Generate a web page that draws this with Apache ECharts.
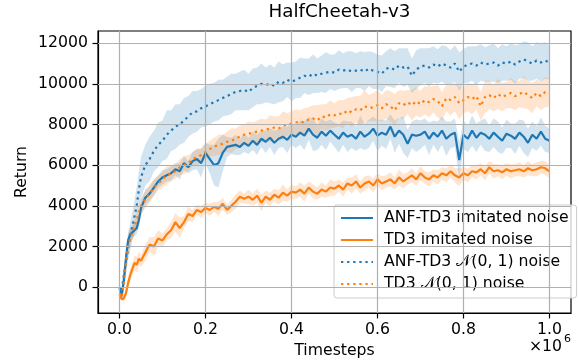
<!DOCTYPE html>
<html lang="en">
<head>
    <meta charset="UTF-8">
    <title>HalfCheetah-v3</title>
    <script src="https://cdn.jsdelivr.net/npm/echarts@6/dist/echarts.min.js"></script>
</head>
<body style="margin: 0">
    <div id="main" style="width: 579px; height: 360px"></div>
    <script>
        // timesteps in units of 1e6
        var timesteps = [0, 0.005, 0.01, 0.015, 0.02, 0.025, 0.03, 0.035, 0.04, 0.045, 0.05,
            0.06, 0.07, 0.08, 0.09, 0.10,
            0.11, 0.12, 0.13, 0.14, 0.15, 0.16, 0.17, 0.18, 0.19, 0.20,
            0.21, 0.22, 0.23, 0.24, 0.25, 0.26, 0.27, 0.28, 0.29, 0.30,
            0.31, 0.32, 0.33, 0.34, 0.35, 0.36, 0.37, 0.38, 0.39, 0.40,
            0.41, 0.42, 0.43, 0.44, 0.45, 0.46, 0.47, 0.48, 0.49, 0.50,
            0.51, 0.52, 0.53, 0.54, 0.55, 0.56, 0.57, 0.58, 0.59, 0.60,
            0.61, 0.62, 0.63, 0.64, 0.65, 0.66, 0.67, 0.68, 0.69, 0.70,
            0.71, 0.72, 0.73, 0.74, 0.75, 0.76, 0.77, 0.78, 0.79, 0.80,
            0.81, 0.82, 0.83, 0.84, 0.85, 0.86, 0.87, 0.88, 0.89, 0.90,
            0.91, 0.92, 0.93, 0.94, 0.95, 0.96, 0.97, 0.98, 0.99, 1.00];

        // ANF-TD3 imitated noise
        var anfImitated = [-50, -450, 300, 1400, 2300, 2600, 2700, 2800, 2900, 3300, 3900,
            4400, 4600, 4900, 5200, 5400,
            5500, 5600, 5800, 5700, 6100, 5900, 6200, 6300, 6100, 6600,
            6300, 6000, 6100, 6600, 6900, 6950, 7000, 6900, 7100, 6950,
            7200, 7000, 7300, 7150, 7350, 7100, 7300, 7400, 7250, 7500,
            7400, 7600, 7450, 7800, 7500, 7350, 7650, 7450, 7700, 7500,
            7300, 7600, 7400, 7500, 7300, 7650, 7400, 7550, 7800, 7450,
            7600, 7500, 7900, 7400, 7700, 7500, 7050, 7500, 7450, 7500,
            7650, 7300, 7600, 7400, 7700, 7300, 7500, 7600, 6250, 7500,
            7300, 7700, 7350, 7600, 7500, 7300, 7600, 7400, 7200, 7550,
            7450, 7300, 7600, 7400, 7100, 7500, 7300, 7650, 7300, 7200];
        var anfImitatedSpread = [150, 150, 300, 400, 400, 350, 300, 300, 300, 350, 400,
            400, 350, 400, 300, 350,
            300, 350, 300, 400, 350, 300, 450, 500, 700, 500,
            700, 1000, 1200, 900, 500, 400, 500, 400, 450, 400,
            450, 500, 400, 550, 450, 600, 450, 500, 650, 500,
            550, 600, 700, 550, 800, 600, 650, 700, 550, 600,
            700, 600, 750, 650, 600, 800, 650, 700, 600, 750,
            650, 700, 600, 800, 650, 900, 700, 650, 800, 700,
            650, 800, 600, 750, 700, 850, 650, 700, 900, 700,
            650, 750, 700, 600, 800, 650, 700, 750, 650, 700,
            600, 750, 650, 800, 700, 650, 600, 700, 650, 600];

        // TD3 imitated noise
        var td3Imitated = [-400, -580, -550, -300, 200, 600, 900, 1200, 1100, 1400, 1300,
            1700, 2100, 2000, 2400, 2300,
            2600, 2800, 3200, 2900, 3200, 3600, 3500, 3800, 3700, 3900,
            3800, 3950, 3850, 4100, 3800, 4000, 4200, 4450, 4350, 4450,
            4300, 4500, 4150, 4450, 4300, 4550, 4400, 4650, 4500, 4700,
            4650, 4800, 4600, 4900, 4700, 4600, 4800, 4700, 4900, 4850,
            5000, 4800, 5100, 5000, 5200, 4900, 5100, 5200, 5000, 5300,
            5100, 5200, 5300, 5100, 5400, 5200, 5350, 5500, 5300, 5600,
            5400, 5300, 5500, 5400, 5600, 5500, 5700, 5500, 5400, 5600,
            5500, 5700, 5650, 5800, 5600, 5900, 5700, 5750, 5650, 5800,
            5700, 5750, 5800, 5700, 5850, 5750, 5800, 5900, 5850, 5700];
        var td3ImitatedSpread = [100, 100, 150, 200, 250, 300, 300, 350, 400, 350, 300,
            400, 350, 450, 400, 350,
            300, 400, 450, 500, 300, 350, 300, 250, 300, 250,
            300, 250, 350, 300, 250, 300, 350, 300, 250, 350,
            300, 350, 400, 300, 350, 300, 350, 400, 300, 350,
            300, 350, 400, 300, 350, 300, 350, 300, 400, 350,
            300, 350, 300, 400, 350, 300, 350, 300, 350, 300,
            350, 300, 350, 300, 400, 350, 300, 350, 300, 350,
            300, 350, 300, 350, 300, 350, 300, 350, 450, 300,
            350, 300, 350, 300, 350, 300, 350, 300, 350, 300,
            350, 300, 350, 300, 350, 300, 350, 300, 350, 300];

        // ANF-TD3 N(0,1) noise
        var anfGauss = [0, -200, 600, 1200, 1900, 2500, 3000, 3500, 4000, 4800, 5400,
            6000, 6300, 6700, 7000, 7200,
            7500, 7700, 7900, 8000, 8200, 8400, 8600, 8650, 8800, 8900,
            9000, 9100, 9200, 9300, 9400, 9500, 9600, 9650, 9700, 9600,
            9800, 9900, 10000, 9950, 10000, 9900, 10100, 10050, 10200, 10100,
            10200, 10300, 10400, 10350, 10500, 10400, 10500, 10550, 10600, 10550,
            10700, 10650, 10700, 10600, 10650, 10700, 10600, 10750, 10650, 10600,
            10500, 10750, 10800, 10700, 10900, 10800, 10850, 10400, 10700, 10850,
            10900, 10800, 10950, 10850, 11000, 10900, 10800, 11000, 10600, 10850,
            10950, 11000, 10900, 11050, 10950, 11000, 11050, 10900, 11050, 11000,
            11100, 10950, 11100, 11200, 11100, 11000, 11150, 11050, 11150, 11050];
        var anfGaussSpread = [100, 200, 400, 500, 600, 700, 700, 800, 900, 900, 1000,
            1000, 1100, 1000, 1100, 1000,
            1200, 1000, 1100, 1000, 1100, 1000, 1050, 1000, 950, 1000,
            1000, 950, 1000, 900, 950, 1000, 900, 950, 1000, 900,
            950, 900, 1000, 850, 950, 900, 1000, 900, 850, 950,
            900, 1000, 850, 900, 950, 850, 900, 1000, 850, 900,
            950, 850, 900, 1000, 850, 900, 950, 850, 900, 850,
            900, 850, 950, 900, 850, 950, 900, 850, 950, 900,
            850, 950, 900, 850, 900, 950, 850, 900, 950, 850,
            900, 850, 950, 900, 850, 900, 950, 850, 900, 850,
            900, 950, 850, 900, 950, 850, 900, 950, 900, 850];

        // TD3 N(0,1) noise
        var td3Gauss = [-300, -500, 200, 1200, 2000, 2400, 2700, 3000, 3300, 3700, 4000,
            4300, 4600, 4900, 5100, 5300,
            5500, 5600, 5700, 5900, 6000, 6100, 6300, 6400, 6500, 6650,
            6800, 6900, 7000, 7050, 7150, 7200, 7300, 7400, 7500, 7550,
            7600, 7650, 7700, 7750, 7800, 7850, 7800, 7950, 8000, 8050,
            8100, 8150, 8100, 8250, 8300, 8200, 8400, 8350, 8500, 8450,
            8550, 8500, 8700, 8600, 8750, 8700, 8900, 8800, 8850, 8950,
            8800, 9000, 8900, 8700, 9050, 8950, 9100, 8950, 9150, 9000,
            9200, 9100, 9250, 9150, 8900, 9300, 9200, 9350, 9050, 9200,
            9350, 9250, 9400, 8900, 9350, 9450, 9300, 9500, 9350, 9450,
            9550, 9400, 9500, 9600, 9450, 9300, 9550, 9400, 9600, 9550];
        var td3GaussSpread = [100, 200, 300, 400, 400, 400, 350, 400, 400, 350, 400,
            400, 450, 400, 350, 400,
            450, 400, 350, 400, 450, 400, 350, 400, 350, 400,
            400, 450, 500, 450, 500, 600, 500, 550, 500, 600,
            500, 550, 600, 500, 650, 550, 600, 700, 550, 600,
            650, 550, 700, 600, 650, 750, 600, 650, 700, 600,
            650, 700, 600, 750, 650, 700, 800, 650, 700, 750,
            650, 700, 750, 800, 650, 700, 600, 750, 700, 650,
            700, 750, 650, 800, 700, 650, 750, 700, 800, 650,
            700, 750, 650, 700, 800, 700, 650, 750, 700, 650,
            750, 700, 650, 800, 700, 750, 650, 700, 750, 650];

        var seriesNames = ['ANF-TD3 imitated noise', 'TD3 imitated noise',
            'ANF-TD3 \uD835\uDCA9(0, 1) noise', 'TD3 \uD835\uDCA9(0, 1) noise'];
        var xTicks = [0, 0.2, 0.4, 0.6, 0.8, 1.0];
        var yTicks = [0, 2000, 4000, 6000, 8000, 10000, 12000];

        var blue = '#1f77b4', orange = '#ff7f0e';
        var font = 'DejaVu Sans';

        var chart = echarts.init(document.getElementById('main'));

        function pairs(ys) {
            return ys.map(function (y, i) { return [timesteps[i], y]; });
        }

        // shaded band drawn as one polygon through the axis scales
        function band(ys, ws, color) {
            return {
                type: 'custom',
                z: 1,
                silent: true,
                data: [0],
                renderItem: function (params, api) {
                    var upper = [], lower = [];
                    for (var i = 0; i < ys.length; i++) {
                        upper.push(api.coord([timesteps[i], ys[i] + ws[i]]));
                        lower.unshift(api.coord([timesteps[i], ys[i] - ws[i]]));
                    }
                    return {
                        type: 'polygon',
                        shape: { points: upper.concat(lower) },
                        style: { fill: color }
                    };
                }
            };
        }

        function line(name, ys, color, dotted) {
            return {
                name: name,
                type: 'line',
                z: 3,
                data: pairs(ys),
                showSymbol: false,
                symbol: 'none',
                silent: true,
                lineStyle: {
                    color: color,
                    width: 2.2,
                    type: dotted ? [2.3, 3.8] : 'solid',
                    cap: 'butt'
                },
                itemStyle: { color: color }
            };
        }

        var labelStyle = { fontFamily: font, fontSize: 15.7, color: '#000' };

        chart.setOption({
            animation: false,
            title: {
                text: 'HalfCheetah-v3',
                left: 334.5,
                textAlign: 'center',
                top: -2,
                textStyle: { fontFamily: font, fontSize: 18.3, fontWeight: 'normal', color: '#000' }
            },
            grid: {
                left: 98, right: 8, top: 31, bottom: 47,
                outerBoundsMode: 'none',
                containLabel: false,
                show: true, borderColor: '#000', borderWidth: 1.2
            },
            legend: {
                orient: 'vertical',
                left: 334,
                top: 205,
                data: seriesNames,
                itemWidth: 32,
                itemHeight: 14,
                itemGap: 6,
                padding: [5, 8, 6, 6],
                itemStyle: { opacity: 0 },
                backgroundColor: 'rgba(255,255,255,0.8)',
                borderColor: '#cccccc',
                borderWidth: 1,
                borderRadius: 3,
                textStyle: { fontFamily: font, fontSize: 15.7, color: '#000', padding: [0, 0, 0, 6] }
            },
            xAxis: {
                type: 'value',
                min: -0.05,
                max: 1.05,
                name: 'Timesteps',
                nameLocation: 'middle',
                nameGap: 30,
                nameMoveOverlap: false,
                nameTextStyle: labelStyle,
                axisLine: { onZero: false, lineStyle: { color: '#000', width: 1.2 } },
                axisTick: { customValues: xTicks, length: 5.5, lineStyle: { color: '#000', width: 1.2 } },
                axisLabel: Object.assign({
                    customValues: xTicks,
                    margin: 9,
                    formatter: function (v) { return v.toFixed(1); }
                }, labelStyle),
                splitLine: { show: false }
            },
            yAxis: {
                type: 'value',
                min: -1270,
                max: 12600,
                name: 'Return',
                nameLocation: 'middle',
                nameGap: 68,
                nameMoveOverlap: false,
                nameTextStyle: labelStyle,
                axisLine: { onZero: false, lineStyle: { color: '#000', width: 1.2 } },
                axisTick: { customValues: yTicks, length: 5.5, lineStyle: { color: '#000', width: 1.2 } },
                axisLabel: Object.assign({
                    customValues: yTicks,
                    margin: 10,
                    formatter: function (v) { return String(v); }
                }, labelStyle),
                splitLine: { show: false }
            },
            graphic: [
                { type: 'text', right: 17, top: 339, style: { text: '\u00d710', font: '15.7px "DejaVu Sans"', fill: '#000' } },
                { type: 'text', right: 8, top: 334, style: { text: '6', font: '11px "DejaVu Sans"', fill: '#000' } }
            ],
            series: [
                band(anfImitated, anfImitatedSpread, 'rgba(31,119,180,0.2)'),
                band(td3Imitated, td3ImitatedSpread, 'rgba(255,127,14,0.2)'),
                band(anfGauss, anfGaussSpread, 'rgba(31,119,180,0.2)'),
                band(td3Gauss, td3GaussSpread, 'rgba(255,127,14,0.2)'),
                {
                    // grid lines at the tick positions
                    type: 'line',
                    name: 'grid',
                    z: 2,
                    data: [],
                    silent: true,
                    markLine: {
                        silent: true,
                        symbol: 'none',
                        label: { show: false },
                        lineStyle: { color: '#b0b0b0', width: 1.2, type: 'solid' },
                        data: yTicks.map(function (v) { return { yAxis: v }; })
                            .concat(xTicks.map(function (v) { return { xAxis: v }; }))
                    }
                },
                line(seriesNames[0], anfImitated, blue, false),
                line(seriesNames[1], td3Imitated, orange, false),
                line(seriesNames[2], anfGauss, blue, true),
                line(seriesNames[3], td3Gauss, orange, true)
            ]
        });
    </script>
</body>
</html>
